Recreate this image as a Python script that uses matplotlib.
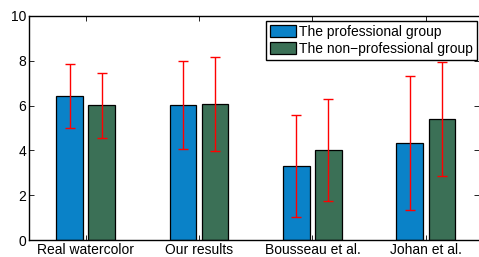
import matplotlib
matplotlib.use("Agg")
import matplotlib.pyplot as plt
import numpy as np

categories = ["Real watercolor", "Our results", "Bousseau et al.", "Johan et al."]
series_names = ["The professional group", "The non\u2212professional group"]
prof_mean = [6.43, 6.03, 3.30, 4.34]
prof_err = [1.44, 1.96, 2.27, 2.98]
nonprof_mean = [6.01, 6.06, 4.00, 5.40]
nonprof_err = [1.45, 2.09, 2.28, 2.55]
yticks = [0, 2, 4, 6, 8, 10]

plt.rcParams['font.family'] = ['Liberation Sans', 'DejaVu Sans']
plt.rcParams['font.size'] = 10

fig = plt.figure(figsize=(4.79, 2.57), dpi=100)
ax = fig.add_axes([29/479, 17/257, 450/479, 224/257])

x = np.arange(1, len(categories) + 1)
w = 0.235
off = 0.142
ekw = dict(ecolor='#ff0000', elinewidth=1.0, capsize=3.5, capthick=1.0)
ax.bar(x - off, prof_mean, w, yerr=prof_err, color='#0a82c8', edgecolor='black',
       linewidth=0.9, label=series_names[0], error_kw=ekw, zorder=2)
ax.bar(x + off, nonprof_mean, w, yerr=nonprof_err, color='#3b7056', edgecolor='black',
       linewidth=0.9, label=series_names[1], error_kw=ekw, zorder=2)

ax.set_xlim(0.5, 4.47)
ax.set_ylim(0, 10)
ax.set_xticks(x)
ax.set_xticklabels(categories)
ax.set_yticks(yticks)
ax.tick_params(direction='in', top=True, right=True, length=3.5, width=0.6, pad=2,
               labelsize=10)
for s in ['left', 'bottom', 'top']:
    ax.spines[s].set_linewidth(1.0)
ax.spines['right'].set_visible(False)

leg = ax.legend(loc='upper right', bbox_to_anchor=(0.996, 0.978), frameon=True,
                fancybox=False, edgecolor='black', framealpha=1, borderpad=0.3,
                handlelength=1.85, handleheight=0.95, handletextpad=0.25,
                labelspacing=0.2, borderaxespad=0.0, fontsize=10)
leg.get_frame().set_linewidth(1.0)

fig.savefig("out.png", dpi=100)
